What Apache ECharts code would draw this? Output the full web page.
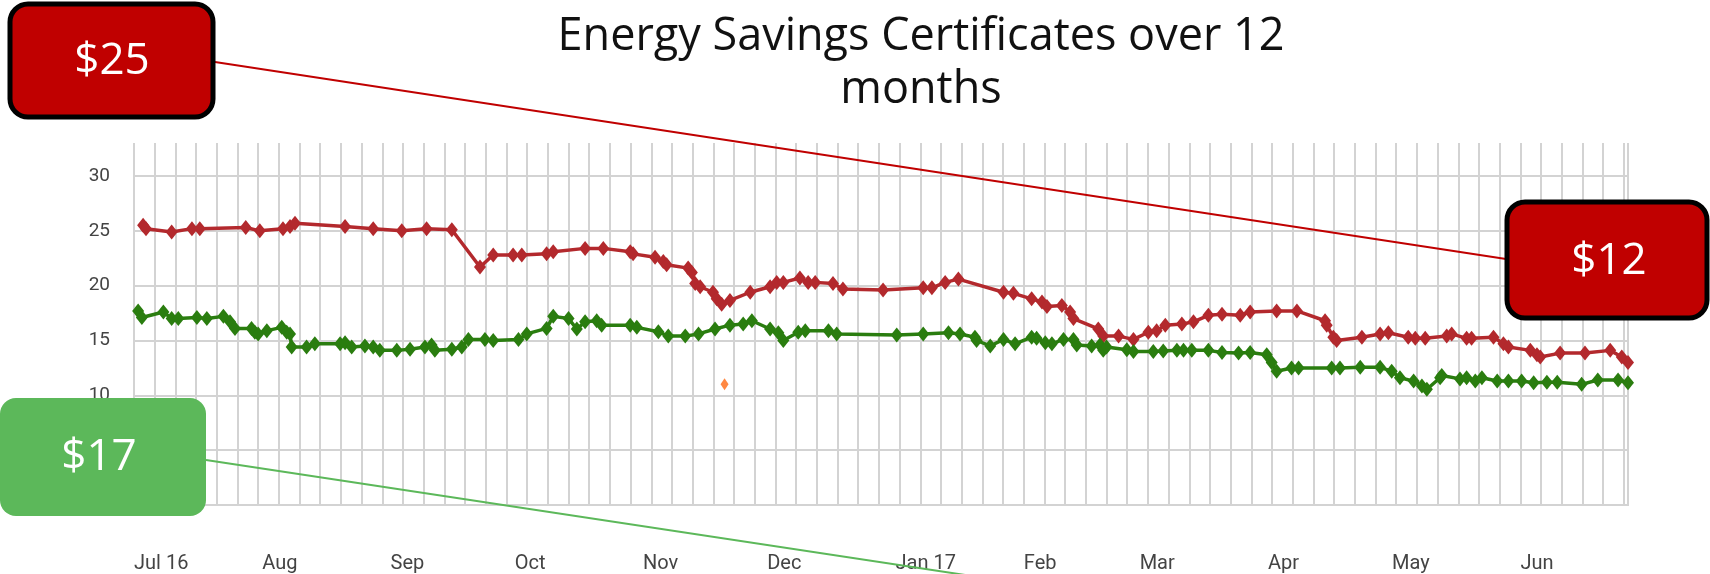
<!DOCTYPE html>
<html>
<head>
<meta charset="utf-8">
<title>Energy Savings Certificates over 12 months</title>
<script src="https://cdn.jsdelivr.net/npm/echarts@6/dist/echarts.min.js"></script>
<style>
  html, body { margin: 0; padding: 0; background: #fff; }
  #chart { width: 1710px; height: 574px; }
</style>
</head>
<body>
<div id="chart"></div>
<script>
  // days counted from 1 Jul 2016
  var monthDays = [0, 31, 62, 92, 123, 153, 184, 215, 243, 274, 304, 335];
  var monthLabels = ['Jul 16', 'Aug', 'Sep', 'Oct', 'Nov', 'Dec', 'Jan 17', 'Feb', 'Mar', 'Apr', 'May', 'Jun'];
  var yTicks = [0, 5, 10, 15, 20, 25, 30];

  var redDay = [2.2, 2.9, 9.1, 14.0, 15.9, 27.0, 30.4, 36.0, 37.7, 38.9, 51.0, 57.8, 64.7, 70.7, 76.8,
    83.6, 86.8, 91.6, 93.7, 99.7, 101.3, 109.0, 113.4, 119.9, 120.6, 125.9, 127.9, 128.7, 133.9, 134.8,
    135.6, 136.8, 139.9, 140.8, 142.0, 144.0, 148.9, 153.7, 155.3, 156.9, 160.9, 162.9, 164.6, 168.9,
    171.3, 181.0, 190.7, 192.8, 196.0, 199.2, 210.1, 212.5, 216.9, 219.4, 220.6, 224.2, 226.2, 227.0,
    233.0, 234.2, 237.9, 241.5, 245.1, 247.1, 249.2, 253.2, 256.0, 259.6, 262.9, 267.3, 269.7, 276.1,
    281.0, 287.8, 288.2, 289.8, 290.6, 296.7, 301.1, 303.1, 307.9, 309.6, 312.0, 317.2, 318.4, 322.0,
    323.2, 328.5, 330.9, 332.1, 337.4, 339.0, 339.8, 344.6, 350.6, 356.7, 359.5, 361.0];
  var redVal = [25.5, 25.2, 24.9, 25.2, 25.2, 25.3, 25.0, 25.2, 25.4, 25.7, 25.4, 25.2, 25.0, 25.2, 25.1,
    21.7, 22.8, 22.8, 22.8, 22.9, 23.1, 23.4, 23.4, 23.1, 22.9, 22.6, 22.2, 21.9, 21.6, 21.2,
    20.2, 19.9, 19.4, 18.8, 18.3, 18.65, 19.4, 19.9, 20.3, 20.3, 20.7, 20.3, 20.3, 20.2,
    19.7, 19.6, 19.8, 19.8, 20.3, 20.6, 19.4, 19.3, 18.8, 18.5, 18.1, 18.2, 17.6, 17.0,
    16.05, 15.4, 15.4, 15.1, 15.75, 15.9, 16.4, 16.5, 16.7, 17.3, 17.4, 17.3, 17.6, 17.7,
    17.7, 16.8, 16.4, 15.3, 15.0, 15.3, 15.6, 15.7, 15.3, 15.2, 15.2, 15.4, 15.6, 15.2,
    15.2, 15.3, 14.7, 14.4, 14.1, 13.7, 13.5, 13.85, 13.85, 14.1, 13.5, 13.0];

  var greenDay = [1.0, 1.9, 7.1, 9.1, 10.7, 15.2, 17.6, 21.6, 23.2, 24.4, 28.4, 29.2, 30.0, 32.1, 35.7,
    36.9, 37.7, 38.1, 41.7, 43.7, 49.8, 51.0, 52.6, 55.8, 57.8, 59.4, 63.5, 66.7, 70.3, 71.9, 72.7,
    76.8, 79.2, 80.8, 84.8, 86.8, 92.9, 94.9, 99.7, 101.3, 105.0, 107.0, 109.0, 111.8, 113.0, 119.9,
    121.5, 126.7, 129.1, 133.2, 136.4, 140.4, 144.0, 147.2, 149.3, 153.7, 155.7, 156.9, 160.5, 162.2,
    167.8, 169.8, 184.3, 190.7, 196.8, 199.6, 203.2, 203.6, 206.9, 210.1, 212.9, 216.9, 218.1, 220.2,
    221.8, 224.6, 227.0, 227.8, 231.4, 233.4, 234.2, 235.0, 239.9, 241.5, 246.3, 248.7, 252.0, 253.6,
    255.6, 259.6, 262.9, 266.9, 269.7, 273.7, 274.9, 276.1, 279.7, 281.4, 289.4, 291.4, 296.3, 301.1,
    303.9, 305.9, 309.2, 311.2, 312.4, 315.6, 316.0, 320.4, 322.0, 324.1, 325.7, 329.4, 332.1, 335.3,
    338.2, 341.4, 343.9, 349.8, 353.7, 358.6, 361.0];
  var greenVal = [17.7, 17.1, 17.6, 17.0, 17.0, 17.1, 17.0, 17.2, 16.7, 16.1, 16.1, 15.75, 15.6, 15.9, 16.2,
    15.75, 15.6, 14.4, 14.4, 14.7, 14.7, 14.8, 14.4, 14.5, 14.4, 14.1, 14.1, 14.2, 14.4, 14.6, 14.1,
    14.2, 14.4, 15.1, 15.1, 15.0, 15.1, 15.6, 16.1, 17.2, 17.0, 16.05, 16.7, 16.8, 16.4, 16.4,
    16.2, 15.8, 15.4, 15.4, 15.6, 16.05, 16.4, 16.5, 16.8, 16.05, 15.7, 15.0, 15.75, 15.9,
    15.9, 15.6, 15.5, 15.6, 15.7, 15.6, 15.3, 15.0, 14.5, 15.1, 14.7, 15.3, 15.2, 14.8,
    14.7, 15.1, 15.1, 14.6, 14.5, 14.6, 14.1, 14.4, 14.15, 14.0, 14.0, 14.05, 14.1, 14.1,
    14.1, 14.1, 13.9, 13.85, 13.9, 13.7, 13.0, 12.2, 12.5, 12.5, 12.5, 12.5, 12.55, 12.55,
    12.2, 11.6, 11.3, 10.85, 10.55, 11.6, 11.8, 11.5, 11.6, 11.3, 11.6, 11.3, 11.3, 11.3,
    11.15, 11.2, 11.2, 11.0, 11.4, 11.4, 11.15];

  var orangeDay = [142.7];
  var orangeVal = [11.0];

  var callouts = ['$25', '$12', '$17'];

  function pairs(xs, ys) {
    return xs.map(function (x, i) { return [x, ys[i]]; });
  }

  var chart = echarts.init(document.getElementById('chart'));

  var lineSeries = function (name, xs, ys, color) {
    return {
      name: name,
      type: 'line',
      xAxisIndex: 1,
      yAxisIndex: 1,
      data: pairs(xs, ys),
      symbol: 'diamond',
      symbolSize: [12, 15],
      showAllSymbol: true,
      clip: false,
      itemStyle: { color: color },
      lineStyle: { color: color, width: 3.5 }
    };
  };

  chart.setOption({
    animation: false,
    title: {
      text: 'Energy Savings Certificates over 12\nmonths',
      left: 916,
      top: 6,
      textAlign: 'center',
      textStyle: {
        fontFamily: 'Open Sans',
        fontWeight: 'normal',
        fontSize: 45,
        lineHeight: 53,
        color: '#111'
      }
    },
    grid: [
      { left: 134, right: 82, top: 143, bottom: 68 },
      { left: 134, right: 82, top: 176, bottom: 68 }
    ],
    xAxis: [
      {
        gridIndex: 0, type: 'value', min: 0, max: 361, interval: 5,
        axisLine: { show: false }, axisTick: { show: false }, axisLabel: { show: false },
        splitLine: { show: true, lineStyle: { color: '#d3d3d3', width: 2 } }
      },
      {
        gridIndex: 1, type: 'value', min: 0, max: 361,
        axisLine: { show: false }, axisTick: { show: false },
        splitLine: { show: false },
        axisLabel: {
          customValues: monthDays,
          formatter: function (v) { return monthLabels[monthDays.indexOf(v)]; },
          align: 'left',
          margin: 49,
          fontFamily: 'Roboto',
          fontSize: 20,
          color: '#444'
        }
      }
    ],
    yAxis: [
      { gridIndex: 0, type: 'value', min: 0, max: 1, show: false },
      {
        gridIndex: 1, type: 'value', min: 0, max: 30, interval: 5,
        axisLine: { show: false }, axisTick: { show: false },
        axisLabel: {
          customValues: yTicks,
          margin: 24,
          fontFamily: 'Roboto',
          fontSize: 19,
          color: '#444'
        },
        splitLine: { show: true, lineStyle: { color: '#d3d3d3', width: 2 } }
      }
    ],
    series: [
      lineSeries('red', redDay, redVal, '#b3292d'),
      lineSeries('green', greenDay, greenVal, '#2a7d0f'),
      {
        name: 'orange',
        type: 'scatter',
        xAxisIndex: 1,
        yAxisIndex: 1,
        data: pairs(orangeDay, orangeVal),
        symbol: 'diamond',
        symbolSize: [8, 12],
        itemStyle: { color: '#ff6a13' }
      }
    ],
    graphic: [
      { type: 'line', z: 100, shape: { x1: 215, y1: 62, x2: 1506, y2: 259 }, style: { stroke: '#c00000', lineWidth: 2 } },
      { type: 'line', z: 100, shape: { x1: 206, y1: 460, x2: 985, y2: 578 }, style: { stroke: '#5cb85a', lineWidth: 2 } },
      { type: 'rect', z: 101, shape: { x: 10, y: 4, width: 203, height: 113, r: 18 }, style: { fill: '#c00000', stroke: '#000', lineWidth: 5 } },
      { type: 'text', z: 102, x: 112, y: 61, style: { text: callouts[0], fill: '#fff', fontFamily: 'Open Sans', fontSize: 44, align: 'center', verticalAlign: 'middle' } },
      { type: 'rect', z: 101, shape: { x: 1507, y: 202, width: 200, height: 116, r: 18 }, style: { fill: '#c00000', stroke: '#000', lineWidth: 5 } },
      { type: 'text', z: 102, x: 1609, y: 261, style: { text: callouts[1], fill: '#fff', fontFamily: 'Open Sans', fontSize: 44, align: 'center', verticalAlign: 'middle' } },
      { type: 'rect', z: 101, shape: { x: 0, y: 398, width: 206, height: 118, r: 16 }, style: { fill: '#5cb85a' } },
      { type: 'text', z: 102, x: 99, y: 457, style: { text: callouts[2], fill: '#fff', fontFamily: 'Open Sans', fontSize: 44, align: 'center', verticalAlign: 'middle' } }
    ]
  });
</script>
</body>
</html>
